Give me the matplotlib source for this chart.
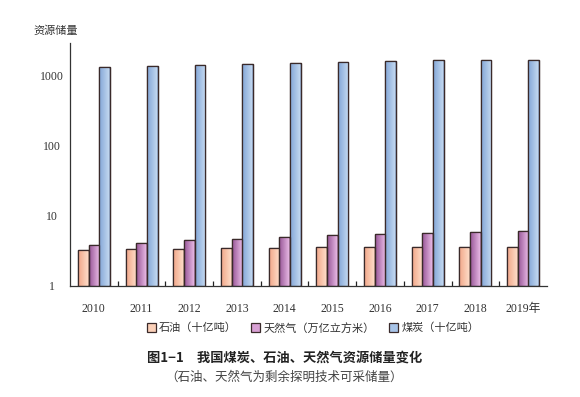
import numpy as np
import matplotlib.pyplot as plt
from matplotlib.colors import LinearSegmentedColormap

plt.rcParams['font.family'] = ['Liberation Serif', 'Noto Sans CJK SC']

years = ['2010', '2011', '2012', '2013', '2014', '2015', '2016', '2017', '2018', '2019年']
oil = [3.24, 3.34, 3.41, 3.46, 3.49, 3.57, 3.57, 3.61, 3.65, 3.61]
gas = [3.85, 4.07, 4.54, 4.74, 5.01, 5.30, 5.47, 5.66, 5.84, 6.10]
coal = [1345, 1389, 1436, 1500, 1534, 1585, 1620, 1675, 1713, 1713]

series = [
    ('石油（十亿吨）', oil, ['#f2a98c', '#ffe0cc', '#fbd0b8']),
    ('天然气（万亿立方米）', gas, ['#9a5a9a', '#eec0ea', '#d8a0d4']),
    ('煤炭（十亿吨）', coal, ['#86a8d8', '#c8dcf2', '#a8c4e8']),
]

fig = plt.figure(figsize=(5.8, 3.97), dpi=100)
ax = fig.add_axes([0.1207, 0.2796, 0.8223, 0.6121])

x = np.arange(len(years))
w = 0.224
grad = np.linspace(0, 1, 64).reshape(1, -1)
for i, (name, vals, cols) in enumerate(series):
    heights = np.array(vals) - 1  # bars start at 1 on the log axis
    bars = ax.bar(x + (i - 1) * w, heights, w, bottom=1, color=cols[2],
                  edgecolor='#3a2a2a', linewidth=0.9, label=name, zorder=2)
    cmap = LinearSegmentedColormap.from_list('g%d' % i, cols[:2])
    for b in bars:
        im = ax.imshow(grad, cmap=cmap, aspect='auto', zorder=2.5,
                       extent=[b.get_x(), b.get_x() + b.get_width(), 1, b.get_y() + b.get_height()],
                       interpolation='bilinear')
        im.set_clip_path(b)
    # outline on top of gradient
    ax.bar(x + (i - 1) * w, heights, w, bottom=1, fill=False,
           edgecolor='#3a2a2a', linewidth=0.9, zorder=3)

ax.set_yscale('log')
ax.set_ylim(1, 2950)
ax.set_xlim(-0.5, 9.5)

ax.set_yticks([1, 10, 100, 1000])
ax.set_yticklabels(['1', '10', '100', '1000'])
ax.yaxis.set_minor_locator(plt.NullLocator())
ax.tick_params(axis='y', length=0, pad=13, labelsize=8.5, labelcolor='#333333')
for t in ax.get_yticklabels():
    t.set_horizontalalignment('center')

ax.set_xticks(x)
ax.set_xticklabels(years)
ax.tick_params(axis='x', length=0, pad=12, labelsize=8.5, labelcolor='#333333')
ax.set_xticks(np.arange(0.5, 9.5, 1), minor=True)
ax.tick_params(axis='x', which='minor', direction='in', length=3.5, width=0.9, color='#222222')

for s in ['top', 'right']:
    ax.spines[s].set_visible(False)
for s in ['left', 'bottom']:
    ax.spines[s].set_color('#333333')
    ax.spines[s].set_linewidth(0.9)

fig.text(0.058, 0.923, '资源储量', fontsize=8, color='#333333',
         family=['Noto Sans CJK SC'], va='center')

handles, labels = ax.get_legend_handles_labels()
leg = fig.legend(handles, labels, loc='center', bbox_to_anchor=(0.54, 0.174), ncol=3,
                 frameon=False, prop={'family': ['Noto Sans CJK SC'], 'size': 8},
                 handlelength=0.8, handleheight=0.8, handletextpad=0.3, columnspacing=1.3,
                 labelcolor='#333333')

fig.text(0.49, 0.098, '图1−1　我国煤炭、石油、天然气资源储量变化', fontsize=9.5,
         fontweight='bold', color='#222222', ha='center', va='center',
         family=['Noto Sans CJK SC', 'DejaVu Sans'])
fig.text(0.49, 0.05, '（石油、天然气为剩余探明技术可采储量）', fontsize=9,
         color='#444444', ha='center', va='center', family=['Noto Sans CJK SC'])

fig.savefig('out.png', dpi=100)
